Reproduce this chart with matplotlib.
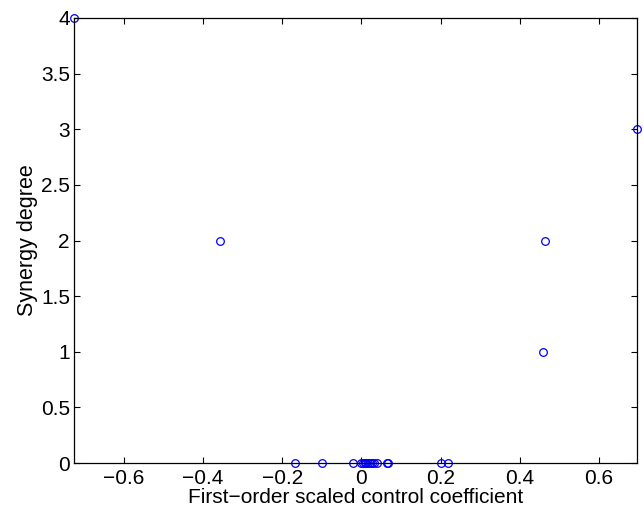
import matplotlib
matplotlib.use('Agg')
import matplotlib.pyplot as plt

plt.rcParams['font.family'] = ['Liberation Sans', 'DejaVu Sans']

# first-order scaled control coefficients and their synergy degree
coef = [-0.726, -0.358, 0.464, 0.459, 0.696,
        -0.169, -0.099, -0.022, 0.0, 0.004, 0.008, 0.012, 0.017,
        0.022, 0.027, 0.033, 0.04, 0.064, 0.066, 0.200, 0.218]
degree = [4, 2, 2, 1, 3,
          0, 0, 0, 0, 0, 0, 0, 0,
          0, 0, 0, 0, 0, 0, 0, 0]

fig = plt.figure(figsize=(6.44, 5.14), dpi=100)
ax = fig.add_axes([0.115, 0.099, 0.874, 0.866])
ax.plot(coef, degree, 'o', mfc='none', mec='blue', ms=5.5, mew=0.9, clip_on=False)

ax.set_xlim(min(coef), max(coef))
ax.set_ylim(0, 4)
ax.set_xticks([-0.6, -0.4, -0.2, 0, 0.2, 0.4, 0.6])
ax.set_xticklabels(['\u22120.6', '\u22120.4', '\u22120.2', '0', '0.2', '0.4', '0.6'])
ax.set_yticks([0, 0.5, 1, 1.5, 2, 2.5, 3, 3.5, 4])
ax.set_yticklabels(['0', '0.5', '1', '1.5', '2', '2.5', '3', '3.5', '4'])
ax.tick_params(direction='in', top=True, right=True, labelsize=15, length=4)
ax.tick_params(axis='x', pad=4)
ax.tick_params(axis='y', pad=3)
ax.set_xlabel('First\u2212order scaled control coefficient', fontsize=15, labelpad=0)
ax.set_ylabel('Synergy degree', fontsize=15.5, labelpad=2)
for s in ax.spines.values():
    s.set_linewidth(0.9)

fig.savefig('out.png')
